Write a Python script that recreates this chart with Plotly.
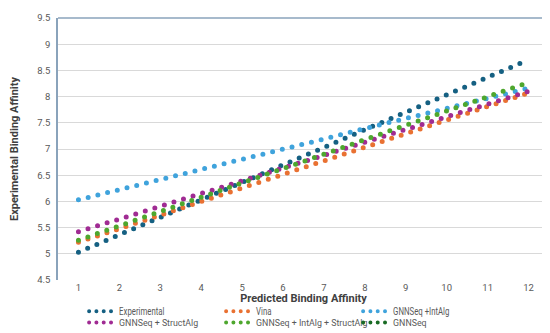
import plotly.graph_objects as go

x_vals = [1, 2, 3, 4, 5, 6, 7, 8, 9, 10, 11, 12]
experimental = [5.03, 5.36, 5.70, 6.03, 6.36, 6.70, 7.03, 7.37, 7.70, 8.03, 8.37, 8.70]
vina = [5.22, 5.48, 5.74, 6.00, 6.26, 6.52, 6.77, 7.03, 7.29, 7.55, 7.81, 8.07]
gnnseq_intalg = [6.03, 6.22, 6.42, 6.61, 6.80, 7.00, 7.19, 7.39, 7.58, 7.77, 7.97, 8.16]
gnnseq_structalg = [5.42, 5.66, 5.91, 6.15, 6.39, 6.64, 6.88, 7.13, 7.37, 7.61, 7.86, 8.10]
gnnseq_intalg_structalg = [5.26, 5.53, 5.81, 6.08, 6.35, 6.63, 6.90, 7.18, 7.45, 7.72, 8.00, 8.27]
gnnseq = []

y_tick_vals = [4.5, 5, 5.5, 6, 6.5, 7, 7.5, 8, 8.5, 9, 9.5]
y_tick_text = ["4.5", "5", "5.5", "6", "6.5", "7", "7.5", "8", "8.5", "9", "9.5"]

series = [
    ("Experimental", experimental, "#156082", "legend"),
    ("Vina", vina, "#E97132", "legend"),
    ("GNNSeq +IntAlg", gnnseq_intalg, "#3FA3DC", "legend"),
    ("GNNSeq + StructAlg", gnnseq_structalg, "#A02B93", "legend2"),
    ("GNNSeq + IntAlg + StructAlg", gnnseq_intalg_structalg, "#4EA72E", "legend2"),
    ("GNNSeq", gnnseq, "#196B24", "legend2"),
]

fig = go.Figure()
for name, vals, color, lg in series:
    xs = x_vals[:len(vals)] if vals else [None]
    ys = vals if vals else [None]
    fig.add_trace(go.Scatter(
        x=xs, y=ys, name=name, mode="lines", legend=lg,
        line=dict(color=color, width=5, dash="0px,10px"),
    ))

FAM = "Roboto, Arial, sans-serif"
tick_font = dict(family=FAM, size=9.5, color="#595959")
title_font = dict(family=FAM, size=11, color="#404040", weight="bold")
legend_font = dict(family=FAM, size=10, color="#595959")
legend2_font = dict(family=FAM, size=8.8, color="#595959")

fig.update_layout(
    width=550, height=333,
    margin=dict(l=50, r=9, t=10, b=61, autoexpand=False),
    plot_bgcolor="white", paper_bgcolor="white",
    xaxis=dict(
        range=[0.5, 12.5], tickvals=x_vals, ticktext=[str(v) for v in x_vals],
        showgrid=False, zeroline=False, showline=False, ticks="",
        tickfont=tick_font, ticklabelstandoff=0,
        title=dict(text="Predicted Binding Affinity", font=title_font, standoff=2),
    ),
    yaxis=dict(
        range=[4.5, 9.5], tickvals=y_tick_vals, ticktext=y_tick_text,
        showgrid=True, gridcolor="#D9D9D9", gridwidth=1, zeroline=False,
        showline=True, mirror=True, linecolor="#8AA3BB", linewidth=1.5,
        ticks="", tickfont=tick_font, ticklabelstandoff=4,
        title=dict(text="Experimental Binding Affinity", font=title_font, standoff=18),
    ),
    legend=dict(
        orientation="h", x=0.043, xanchor="left", y=-0.064, yanchor="top",
        entrywidth=92, entrywidthmode="pixels", itemwidth=30,
        font=legend_font, bgcolor="rgba(0,0,0,0)", tracegroupgap=0,
    ),
    legend2=dict(
        orientation="h", x=0.043, xanchor="left", y=-0.107, yanchor="top",
        entrywidth=92, entrywidthmode="pixels", itemwidth=30,
        font=legend2_font, bgcolor="rgba(0,0,0,0)", tracegroupgap=0,
    ),
    shapes=[dict(type="line", xref="paper", yref="paper", x0=0, x1=1, y0=1, y1=1,
                 line=dict(color="#8AA3BB", width=1.5))],
)

post = """
var s = document.createElement('style');
s.innerHTML = '.scatterlayer path.js-line{stroke-linecap:round !important;}' +
  '.legendlines{transform:translateX(5px);}' +
  '.legendtext{transform-box:fill-box; transform-origin:left center; transform:scaleX(0.78);}' +
  '.legendlines path{stroke-linecap:round !important; stroke-width:4px !important; stroke-dasharray:0 7.3px 0 7.3px 0 7.3px 0 100px !important;}';
document.head.appendChild(s);
"""
fig.write_html("out.html", post_script=post)
